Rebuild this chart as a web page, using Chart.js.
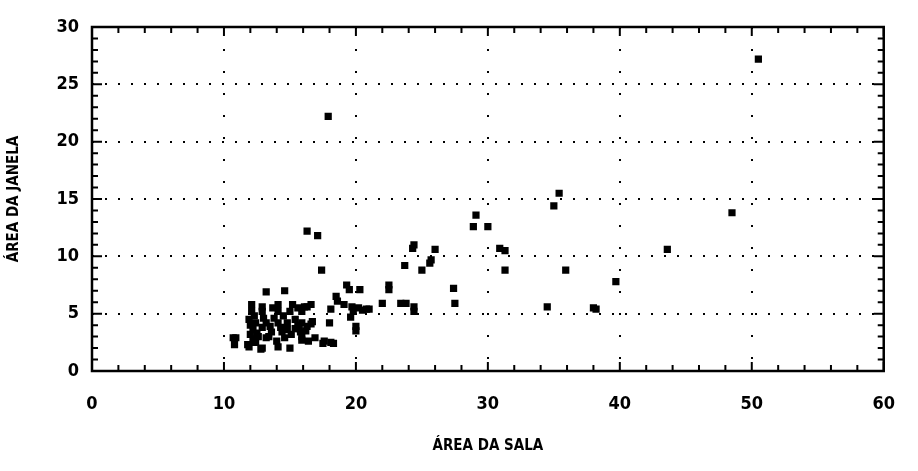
<!DOCTYPE html>
<html>
<head>
<meta charset="utf-8">
<script src="https://cdn.jsdelivr.net/npm/chart.js@4.4.1/dist/chart.umd.min.js"></script>
<style>
  body { margin: 0; background: #fff; }
  canvas { display: block; }
</style>
</head>
<body>
<canvas id="chart" width="918" height="471"></canvas>
<script>
// área da sala (x) / área da janela (y)
const salaArea = [
    50.5, 17.9, 48.5, 43.6, 39.7, 38.0, 38.2, 34.5, 35.9, 35.4, 35.0, 30.9, 31.3, 31.3,
    29.1, 28.9, 30.0, 24.4, 24.3, 26.0, 25.7, 25.6, 23.7, 25.0, 22.5, 22.5, 27.4, 27.5,
    22.0, 23.4, 23.8, 24.4, 24.4, 20.8,
    16.3, 17.1, 17.4, 19.3, 19.5, 20.3, 18.5, 18.6, 19.1, 19.7, 20.2, 19.8, 18.1, 16.3,
    16.6, 15.6, 19.6, 20.0, 20.0, 18.0, 21.0, 20.5,
    13.2, 14.6, 12.1, 12.9, 12.9, 14.1, 15.2, 16.1, 14.1, 15.0, 15.9, 11.9, 12.4, 13.2,
    12.2, 12.9, 13.5, 14.1, 14.8, 15.4, 15.9, 16.7, 14.4, 15.1, 15.8, 15.9, 14.6, 10.9,
    10.8, 11.8, 12.4, 12.9, 12.6, 13.2, 14.1, 15.0, 15.9, 16.9, 17.6, 18.1, 12.8, 11.9,
    17.5, 18.3, 12.0, 12.0, 12.3, 13.6, 14.3, 15.4, 16.2, 12.5, 13.0, 12.1, 16.6, 14.8,
    15.7, 10.7, 12.3, 13.8, 14.5, 15.6, 16.3, 13.4, 14.0, 16.4, 12.2, 13.7
];
const janelaArea = [
    27.2, 22.2, 13.8, 10.6, 7.8, 5.5, 5.4, 5.6, 8.8, 15.5, 14.4, 10.7, 10.5, 8.8,
    13.6, 12.6, 12.6, 11.0, 10.7, 10.6, 9.7, 9.4, 9.2, 8.8, 7.5, 7.1, 7.2, 5.9,
    5.9, 5.9, 5.9, 5.6, 5.2, 5.4,
    12.2, 11.8, 8.8, 7.5, 7.1, 7.1, 6.5, 6.1, 5.8, 5.6, 5.5, 5.2, 5.4, 5.6,
    5.8, 5.5, 4.7, 3.9, 3.5, 4.2, 5.4, 5.3,
    6.9, 7.0, 5.8, 5.6, 5.2, 5.8, 5.8, 5.6, 5.2, 5.2, 5.2, 4.5, 4.2, 4.2,
    3.6, 3.8, 3.9, 4.2, 4.2, 4.5, 4.2, 4.3, 3.4, 3.2, 3.4, 3.0, 2.9, 2.9,
    2.3, 2.3, 2.5, 2.0, 3.0, 2.9, 2.1, 2.0, 2.7, 2.9, 2.6, 2.5, 1.9, 2.1,
    2.4, 2.4, 4.0, 3.2, 2.8, 3.4, 3.8, 3.7, 3.5, 3.3, 4.6, 5.2, 4.1, 3.6,
    3.7, 2.9, 4.8, 4.6, 4.8, 4.0, 3.9, 3.0, 2.6, 2.6, 2.6, 5.5
];
const xTicks = [0, 10, 20, 30, 40, 50, 60];
const yTicks = [0, 5, 10, 15, 20, 25, 30];

const tickFont = { family: '"DejaVu Sans Condensed", "Liberation Sans Narrow", "DejaVu Sans", sans-serif', size: 18, weight: 'bold' };
const titleFont = { family: '"DejaVu Sans Condensed", "Liberation Sans Narrow", "DejaVu Sans", sans-serif', size: 15, weight: 'bold' };

// frame with inward tick marks on all four sides
const framePlugin = {
    id: 'frame',
    afterDatasetsDraw(chart) {
        const { ctx, chartArea: a, scales: { x, y } } = chart;
        ctx.save();
        ctx.strokeStyle = '#000';
        ctx.lineWidth = 2.5;
        ctx.strokeRect(a.left, a.top, a.right - a.left, a.bottom - a.top);
        ctx.lineWidth = 2;
        ctx.beginPath();
        for (let v = x.min; v <= x.max; v += 2) {
            const px = x.getPixelForValue(v);
            const len = v % 10 === 0 ? 9 : 6;
            ctx.moveTo(px, a.bottom); ctx.lineTo(px, a.bottom - len);
            ctx.moveTo(px, a.top); ctx.lineTo(px, a.top + len);
        }
        for (let v = y.min; v <= y.max; v += 1) {
            const py = y.getPixelForValue(v);
            const len = v % 5 === 0 ? 10 : 6;
            ctx.moveTo(a.left, py); ctx.lineTo(a.left + len, py);
            ctx.moveTo(a.right, py); ctx.lineTo(a.right - len, py);
        }
        ctx.stroke();
        ctx.restore();
    }
};

function init() {
    const ctx = document.getElementById('chart').getContext('2d');
    new Chart(ctx, {
        type: 'scatter',
        data: {
            datasets: [{
                data: salaArea.map((v, i) => ({ x: v, y: janelaArea[i] })),
                pointStyle: 'rect',
                pointRadius: 5.1,
                backgroundColor: '#000',
                borderWidth: 0
            }]
        },
        options: {
            responsive: false,
            animation: false,
            layout: { padding: { top: 27, right: 15, left: 0, bottom: 0 } },
            plugins: { legend: { display: false }, tooltip: { enabled: false } },
            scales: {
                x: {
                    type: 'linear',
                    min: 0,
                    max: 60,
                    afterBuildTicks: s => { s.ticks = xTicks.map(v => ({ value: v })); },
                    afterFit: s => { s.height = 100; },
                    ticks: { color: '#000', font: tickFont, padding: 23, maxRotation: 0 },
                    grid: { color: '#000', lineWidth: 2, drawTicks: false },
                    border: { display: false, dash: [2, 20] },
                    title: { display: true, text: 'ÁREA DA SALA', color: '#000', font: titleFont, padding: { top: 0, bottom: 16 } }
                },
                y: {
                    type: 'linear',
                    min: 0,
                    max: 30,
                    afterBuildTicks: s => { s.ticks = yTicks.map(v => ({ value: v })); },
                    afterFit: s => { s.width = 92; },
                    ticks: { color: '#000', font: tickFont, padding: 13 },
                    grid: { color: '#000', lineWidth: 2, drawTicks: false },
                    border: { display: false, dash: [2, 11] },
                    title: { display: true, text: 'ÁREA DA JANELA', color: '#000', font: titleFont, padding: { top: 5, bottom: 0 } }
                }
            }
        },
        plugins: [framePlugin]
    });
}

document.addEventListener('DOMContentLoaded', init);
</script>
</body>
</html>
